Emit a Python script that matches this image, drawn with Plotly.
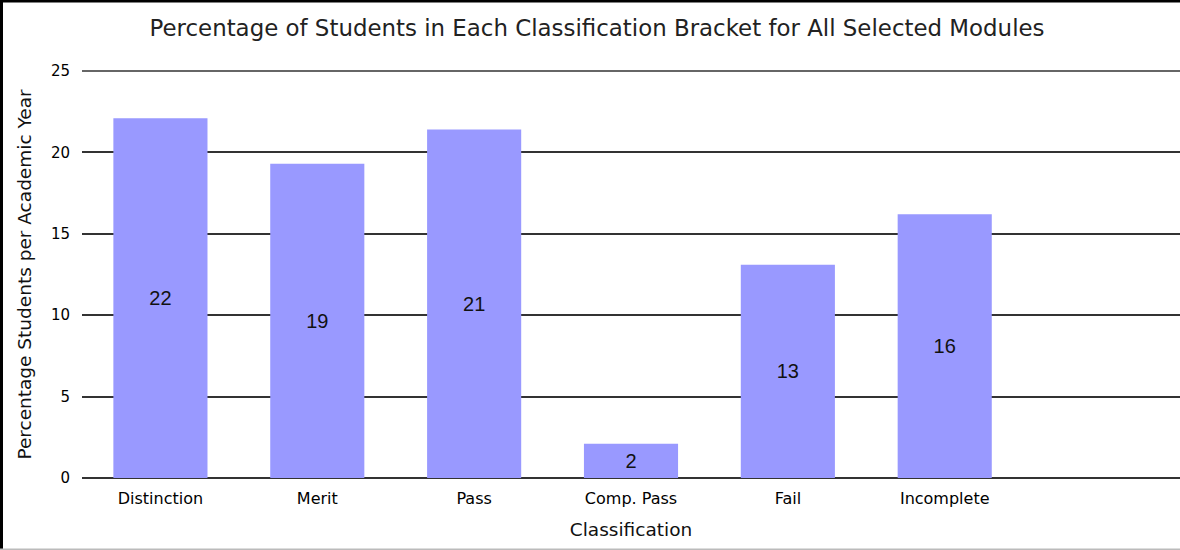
import plotly.graph_objects as go

categories = ["Distinction", "Merit", "Pass", "Comp. Pass", "Fail", "Incomplete"]
values = [22.1, 19.3, 21.4, 2.1, 13.1, 16.2]
y_ticks = [0, 5, 10, 15, 20, 25]

W, H = 1180, 550
ml, mr, mt, mb = 82, 0, 71, 72
pw, ph = W - ml - mr, H - mt - mb

def px_x(px):
    return (px - ml) / pw

def px_y(py):
    return (H - mb - py) / ph

DJ = "DejaVu Sans, Verdana, sans-serif"
LS = "Liberation Sans, Arial, sans-serif"
GRID = "#333333"

fig = go.Figure()
fig.add_trace(go.Bar(
    x=categories, y=values,
    marker=dict(color="#9999ff", line=dict(width=0)),
    width=0.6,
    texttemplate="%{y:.0f}",
    textposition="inside",
    insidetextanchor="middle",
    textangle=0,
    constraintext="none",
    textfont=dict(color="#111111", size=20, family=LS),
    hoverinfo="skip",
))

fig.update_layout(
    width=W, height=H,
    margin=dict(l=ml, r=mr, t=mt, b=mb),
    paper_bgcolor="white", plot_bgcolor="white",
    font=dict(family=DJ, color="#000000"),
    title=dict(text="Percentage of Students in Each Classification Bracket for All Selected Modules",
               x=597 / W, xanchor="center", y=1 - 28 / H, yanchor="middle",
               font=dict(size=22.9, color="#222222", family=DJ)),
    showlegend=False,
    xaxis=dict(
        categoryorder="array", categoryarray=categories,
        range=[-0.5, 6.5],
        showgrid=False, showline=False, zeroline=False,
        ticks="", tickfont=dict(size=16, color="#000000", family=DJ),
        ticklabelstandoff=9,
        title=dict(text="Classification", font=dict(size=18.5, color="#111111", family=DJ), standoff=16),
    ),
    yaxis=dict(
        range=[0, 25], tickvals=y_ticks,
        showgrid=True, gridcolor=GRID, gridwidth=1.5,
        zeroline=True, zerolinecolor=GRID, zerolinewidth=1.5,
        showline=False, ticks="", ticklabelstandoff=11,
        tickfont=dict(size=15, color="#000000", family=DJ),
        title=dict(text="Percentage Students per Academic Year", font=dict(size=18.5, color="#111111", family=DJ), standoff=14),
    ),
    shapes=[
        # top gridline (at the upper edge of the plot area)
        dict(type="line", xref="paper", yref="paper",
             x0=0, x1=1, y0=1, y1=1,
             line=dict(color=GRID, width=1.5), layer="above"),
        # frame: left, top (black), bottom (light grey)
        dict(type="rect", xref="paper", yref="paper",
             x0=px_x(0), x1=px_x(3), y0=px_y(H), y1=px_y(0),
             line=dict(width=0), fillcolor="#000000", layer="above"),
        dict(type="rect", xref="paper", yref="paper",
             x0=px_x(0), x1=px_x(W), y0=px_y(2.5), y1=px_y(0),
             line=dict(width=0), fillcolor="#000000", layer="above"),
        dict(type="rect", xref="paper", yref="paper",
             x0=px_x(0), x1=px_x(W), y0=px_y(H), y1=px_y(H - 1.5),
             line=dict(width=0), fillcolor="#bbbbbb", layer="above"),
    ],
)

fig.write_html("out.html",
               config={"displayModeBar": False},
               post_script="document.body.style.margin='0';document.body.style.overflow='hidden';")
